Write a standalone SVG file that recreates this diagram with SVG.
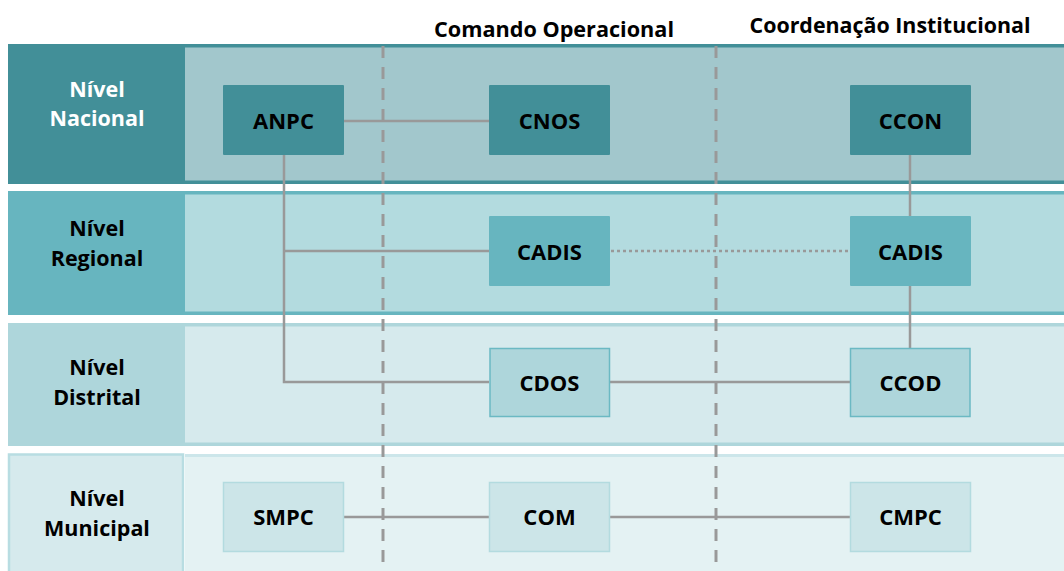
<svg xmlns="http://www.w3.org/2000/svg" width="1064" height="571" viewBox="0 0 1064 571">
<style>
text{font-family:"Open Sans","Liberation Sans",sans-serif;font-weight:700;text-anchor:middle;fill:#000}
.hdr{font-size:22px}
.lvl{font-size:21.5px}
.lbl{font-size:22px}
.wl{fill:#fff}
.conn{stroke:#999;stroke-width:2.5;fill:none}
.dot{stroke:#999;stroke-width:2.5;fill:none;stroke-dasharray:3 3}
.dash{stroke:#999;stroke-width:3;fill:none;stroke-dasharray:12 9}
</style>
<rect x="0" y="0" width="1064" height="571" fill="#fff"/>
<g id="headers">
<text class="hdr" x="554" y="37" textLength="240" lengthAdjust="spacingAndGlyphs">Comando Operacional</text>
<text class="hdr" x="890" y="33" textLength="281" lengthAdjust="spacingAndGlyphs">Coordenação Institucional</text>
</g>
<g id="row-nacional">
<rect x="185" y="44" width="879" height="140" fill="#428f98"/>
<rect x="185" y="47.5" width="879" height="133" fill="#a2c7cc"/>
<rect x="8" y="44" width="177" height="140" fill="#428f98"/>
<text class="lvl wl" x="97" y="97">Nível</text>
<text class="lvl wl" x="97" y="126">Nacional</text>
</g>
<g id="row-regional">
<rect x="185" y="191" width="879" height="124" fill="#67b5bf"/>
<rect x="185" y="194.5" width="879" height="117" fill="#b3dbdf"/>
<rect x="8" y="191" width="177" height="124" fill="#67b5bf"/>
<text class="lvl" x="97" y="236">Nível</text>
<text class="lvl" x="97" y="266">Regional</text>
</g>
<g id="row-distrital">
<rect x="185" y="323" width="879" height="123" fill="#aed6db"/>
<rect x="185" y="326.5" width="879" height="116" fill="#d6eaed"/>
<rect x="8" y="323" width="177" height="123" fill="#aed6db"/>
<text class="lvl" x="97" y="375">Nível</text>
<text class="lvl" x="97" y="405">Distrital</text>
</g>
<g id="row-municipal">
<rect x="185" y="454" width="879" height="120" fill="#cce6ea"/>
<rect x="185" y="457" width="879" height="120" fill="#e4f2f3"/>
<rect x="9" y="454.5" width="174" height="120" fill="#d6eaed" stroke="#b8dde2" stroke-width="2.5"/>
<text class="lvl" x="97" y="506">Nível</text>
<text class="lvl" x="97" y="536">Municipal</text>
</g>
<g id="dividers">
<line class="dash" x1="383" y1="46" x2="383" y2="571"/>
<line class="dash" x1="716" y1="46" x2="716" y2="571"/>
</g>
<g id="connectors">
<line class="conn" x1="344" y1="121" x2="489" y2="121"/>
<polyline class="conn" points="284,155 284,382 489,382"/>
<line class="conn" x1="284" y1="251" x2="489" y2="251"/>
<line class="dot" x1="611" y1="251" x2="850" y2="251"/>
<line class="conn" x1="910" y1="155" x2="910" y2="216"/>
<line class="conn" x1="910" y1="286" x2="910" y2="348"/>
<line class="conn" x1="610" y1="382" x2="850" y2="382"/>
<line class="conn" x1="343" y1="517" x2="489" y2="517"/>
<line class="conn" x1="610" y1="517" x2="850" y2="517"/>
</g>
<g id="node-anpc"><rect x="223" y="85" width="121" height="70" rx="1" fill="#428f98"/><text class="lbl" x="283.5" y="128.5">ANPC</text></g>
<g id="node-cnos"><rect x="489" y="85" width="121" height="70" rx="1" fill="#428f98"/><text class="lbl" x="549.5" y="128.5">CNOS</text></g>
<g id="node-ccon"><rect x="850" y="85" width="121" height="70" rx="1" fill="#428f98"/><text class="lbl" x="910.5" y="128.5">CCON</text></g>
<g id="node-cadis-op"><rect x="489" y="216" width="121" height="70" rx="1" fill="#67b5bf"/><text class="lbl" x="549.5" y="259.5">CADIS</text></g>
<g id="node-cadis-inst"><rect x="850" y="216" width="121" height="70" rx="1" fill="#67b5bf"/><text class="lbl" x="910.5" y="259.5">CADIS</text></g>
<g id="node-cdos"><rect x="490" y="348.5" width="119.5" height="68" fill="#aed6db" stroke="#6bb9c3" stroke-width="1.5"/><text class="lbl" x="549.5" y="390.5">CDOS</text></g>
<g id="node-ccod"><rect x="850.5" y="348.5" width="119.5" height="68" fill="#aed6db" stroke="#6bb9c3" stroke-width="1.5"/><text class="lbl" x="910.5" y="390.5">CCOD</text></g>
<g id="node-smpc"><rect x="223.5" y="482.5" width="120" height="69" fill="#cce5e8" stroke="#b3dbdf" stroke-width="1.5"/><text class="lbl" x="283.5" y="524.5">SMPC</text></g>
<g id="node-com"><rect x="489.5" y="482.5" width="120" height="69" fill="#cce5e8" stroke="#b3dbdf" stroke-width="1.5"/><text class="lbl" x="549.5" y="524.5">COM</text></g>
<g id="node-cmpc"><rect x="850.5" y="482.5" width="120" height="69" fill="#cce5e8" stroke="#b3dbdf" stroke-width="1.5"/><text class="lbl" x="910.5" y="524.5">CMPC</text></g>
</svg>
